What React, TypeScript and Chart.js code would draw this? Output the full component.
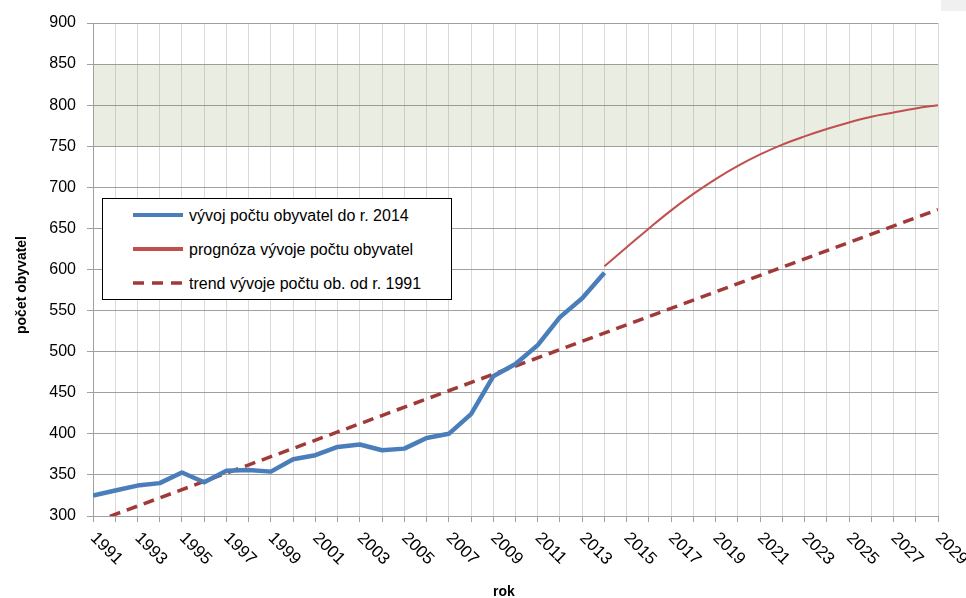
import React, { useEffect, useRef } from "react";
import { Chart, registerables } from "chart.js";

Chart.register(...registerables);

// ---- data ----
const historyYears = [1991, 1992, 1993, 1994, 1995, 1996, 1997, 1998, 1999, 2000, 2001, 2002, 2003, 2004, 2005, 2006, 2007, 2008, 2009, 2010, 2011, 2012, 2013, 2014];
const historyValues = [325, 331, 337, 340, 353, 341, 355, 356, 354, 369, 374, 384, 387, 380, 382, 395, 400, 424, 470, 485, 508, 542, 565, 596];

const forecastYears = [2014, 2015, 2016, 2017, 2018, 2019, 2020, 2021, 2022, 2023, 2024, 2025, 2026, 2027, 2028, 2029];
const forecastValues = [604, 627, 650, 672, 692, 710, 726, 740, 752, 762, 771, 779, 786, 791, 796, 800];

const trendYears = [1991, 2029];
const trendValues = [292, 673];

const xTickLabels = ["1991", "1993", "1995", "1997", "1999", "2001", "2003", "2005", "2007", "2009", "2011", "2013", "2015", "2017", "2019", "2021", "2023", "2025", "2027", "2029"];
const yTickValues = [300, 350, 400, 450, 500, 550, 600, 650, 700, 750, 800, 850, 900];
const bandRange = [750, 850];

const legendLabels = [
  "vývoj počtu obyvatel do r. 2014",
  "prognóza vývoje počtu obyvatel",
  "trend vývoje počtu ob. od r. 1991",
];
const yAxisTitle = "počet obyvatel";
const xAxisTitle = "rok";

const FONT = '"Liberation Sans", Arial, sans-serif';
const BLUE = "#4a7ebb";
const RED = "#c0504d";
const DARKRED = "#a03a38";

const customPlugin = {
  id: "customDecor",
  beforeDatasetsDraw(chart: any) {
    const { ctx, chartArea, scales } = chart;
    const y = scales.y;
    const top = y.getPixelForValue(bandRange[1]);
    const bot = y.getPixelForValue(bandRange[0]);
    ctx.save();
    ctx.fillStyle = "rgba(120,145,77,0.163)";
    ctx.fillRect(chartArea.left + 1, top, chartArea.right - chartArea.left - 1, bot - top);
    ctx.restore();
  },
  afterDraw(chart: any) {
    const { ctx, scales, chartArea } = chart;
    const x = scales.x;
    ctx.save();
    ctx.fillStyle = "#000";
    ctx.font = `17px ${FONT}`;
    ctx.textAlign = "left";
    ctx.textBaseline = "middle";
    for (const lbl of xTickLabels) {
      const px = x.getPixelForValue(Number(lbl));
      ctx.save();
      ctx.translate(px, chartArea.bottom + 19.5);
      ctx.rotate(Math.PI / 4);
      ctx.fillText(lbl, 0, 0);
      ctx.restore();
    }
    // axis titles
    ctx.font = `bold 14px ${FONT}`;
    ctx.textAlign = "center";
    ctx.textBaseline = "alphabetic";
    ctx.fillText(xAxisTitle, 504, 596);
    ctx.save();
    ctx.translate(26, 285);
    ctx.rotate(-Math.PI / 2);
    ctx.fillText(yAxisTitle, 0, 0);
    ctx.restore();
    ctx.restore();
  },
};

export default function App() {
  const canvasRef = useRef<HTMLCanvasElement | null>(null);

  useEffect(() => {
    if (!canvasRef.current) return;
    const chart = new Chart(canvasRef.current, {
      type: "line",
      data: {
        datasets: [
          {
            label: legendLabels[0],
            data: historyYears.map((yr, i) => ({ x: yr, y: historyValues[i] })),
            borderColor: BLUE,
            borderWidth: 4.5,
            pointRadius: 0,
            tension: 0,
            borderJoinStyle: "round",
            order: 1,
          },
          {
            label: legendLabels[1],
            data: forecastYears.map((yr, i) => ({ x: yr, y: forecastValues[i] })),
            borderColor: RED,
            borderWidth: 2,
            pointRadius: 0,
            tension: 0.4,
            order: 2,
          },
          {
            label: legendLabels[2],
            data: trendYears.map((yr, i) => ({ x: yr, y: trendValues[i] })),
            borderColor: DARKRED,
            borderWidth: 3.5,
            borderDash: [11, 7],
            pointRadius: 0,
            clip: 0,
            order: 3,
          },
        ],
      },
      options: {
        animation: false,
        responsive: false,
        devicePixelRatio: 1,
        layout: { padding: { top: 23, right: 28, left: 0, bottom: 0 } },
        plugins: {
          legend: { display: false },
          tooltip: { enabled: false },
          title: { display: false },
        },
        scales: {
          x: {
            type: "linear",
            min: 1991,
            max: 2029,
            ticks: { stepSize: 1, display: false },
            grid: { color: "#d9d9d9", lineWidth: 1, tickLength: 6, tickColor: "#a0a0a0" },
            border: { color: "#a0a0a0" },
            afterFit: (s: any) => {
              s.height = 82;
            },
          },
          y: {
            type: "linear",
            min: 300,
            max: 900,
            afterBuildTicks: (s: any) => {
              s.ticks = yTickValues.map((v) => ({ value: v }));
            },
            ticks: {
              stepSize: 50,
              color: "#000",
              padding: 11,
              font: { family: FONT, size: 16 },
            },
            grid: { color: "#a0a0a0", lineWidth: 1, tickLength: 6, tickColor: "#a0a0a0" },
            border: { color: "#a0a0a0" },
            afterFit: (s: any) => {
              s.width = 93;
            },
          },
        },
      },
      plugins: [customPlugin],
    } as any);
    return () => chart.destroy();
  }, []);

  const rowY = [215, 249, 283];
  return (
    <div style={{ position: "absolute", left: 0, top: 0, width: 966, height: 598, background: "#fff" }}>
      <canvas ref={canvasRef} width={966} height={598} style={{ position: "absolute", left: 0, top: 0, width: 966, height: 598 }} />
      <div style={{ position: "absolute", left: 941, top: 0, width: 25, height: 11, background: "#f0f0f0" }} />
      <div
        style={{
          position: "absolute",
          left: 102,
          top: 198,
          width: 350,
          height: 102,
          boxSizing: "border-box",
          border: "1px solid #000",
          background: "#fff",
        }}
      />
      <svg style={{ position: "absolute", left: 0, top: 0 }} width={966} height={598} pointerEvents="none">
        <line x1={133} y1={rowY[0]} x2={183} y2={rowY[0]} stroke={BLUE} strokeWidth={4} />
        <line x1={133} y1={rowY[1]} x2={183} y2={rowY[1]} stroke={RED} strokeWidth={4} />
        <line x1={133} y1={rowY[2]} x2={183} y2={rowY[2]} stroke={DARKRED} strokeWidth={3.5} strokeDasharray="11 8" />
      </svg>
      {legendLabels.map((t, i) => (
        <div
          key={t}
          style={{
            position: "absolute",
            left: 189,
            top: rowY[i] - 7.5,
            font: `16px ${FONT}`,
            lineHeight: "16px",
            color: "#000",
            whiteSpace: "nowrap",
          }}
        >
          {t}
        </div>
      ))}
    </div>
  );
}
